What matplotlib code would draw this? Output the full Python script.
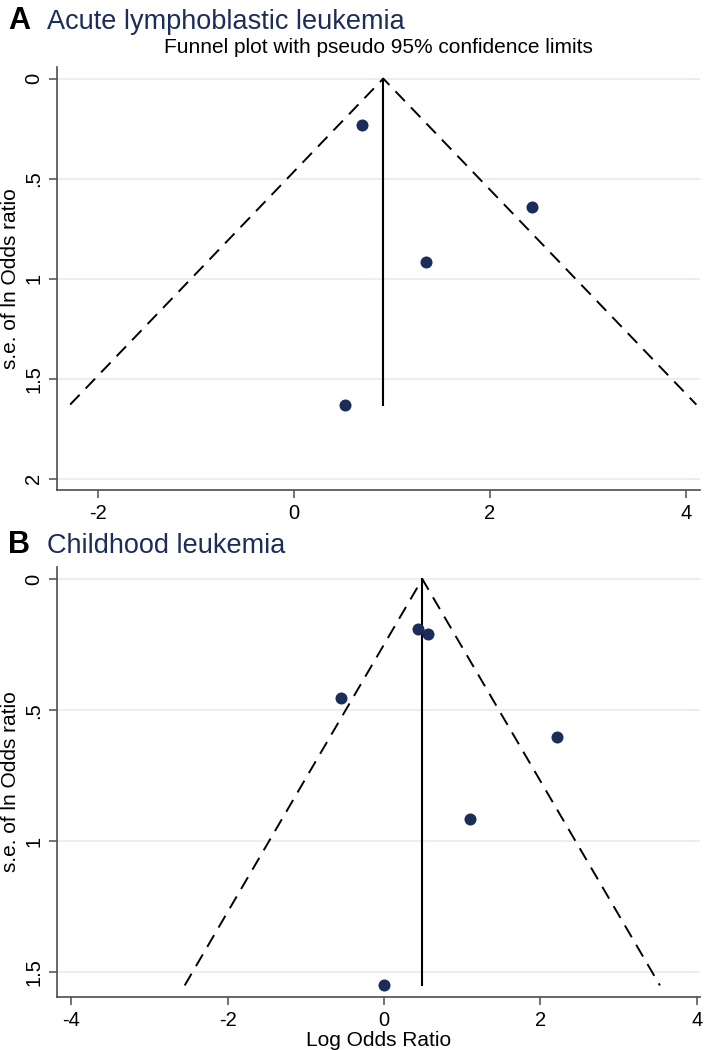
#!/usr/bin/env python3

import matplotlib
matplotlib.use("Agg")
import matplotlib.pyplot as plt

plt.rcParams["font.family"] = ["Liberation Sans", "DejaVu Sans"]

# Panel A: acute lymphoblastic leukemia
a_log_or = [0.70, 2.43, 1.35, 0.52]
a_se = [0.232, 0.643, 0.917, 1.63]
a_pooled = 0.914
a_se_max = 1.63

# Panel B: childhood leukemia
b_log_or = [0.43, 0.56, -0.55, 2.21, 1.10, 0.0]
b_se = [0.192, 0.209, 0.452, 0.604, 0.916, 1.55]
b_pooled = 0.49
b_se_max = 1.55

a_xticks = [-2, 0, 2, 4]
a_yticks = [0, 0.5, 1, 1.5, 2]
a_ylabels = ["0", ".5", "1", "1.5", "2"]
b_xticks = [-4, -2, 0, 2, 4]
b_yticks = [0, 0.5, 1, 1.5]
b_ylabels = ["0", ".5", "1", "1.5"]

W, H = 710, 1050
navy = "#1c2d5a"
grid_c = "#e6edf2"
spine_c = "#4d4d4d"
fs_tick = 14.5
fs_lab = 15


def funnel(ax, log_or, se, pooled, se_max, xlim, ylim, xticks, yticks, ylabels):
    for y in yticks:
        ax.axhline(y, color=grid_c, lw=1.3, zorder=0)
    z = 1.96
    ax.plot([pooled - z * se_max, pooled, pooled + z * se_max],
            [se_max, 0, se_max], color="black", lw=1.4,
            linestyle=(0, (7, 4.5)), zorder=2)
    ax.plot([pooled, pooled], [0, se_max], color="black", lw=1.5, zorder=2)
    ax.scatter(log_or, se, s=75, color=navy, zorder=3, linewidths=0)
    ax.set_xlim(*xlim)
    ax.set_ylim(ylim[1], ylim[0])
    ax.set_xticks(xticks)
    ax.set_xticklabels([str(t) for t in xticks], fontsize=fs_tick)
    ax.set_yticks(yticks)
    ax.set_yticklabels(ylabels, fontsize=fs_tick, rotation=90, va="center")
    ax.set_ylabel("s.e. of ln Odds ratio", fontsize=fs_lab, labelpad=3)
    for side in ["top", "right"]:
        ax.spines[side].set_visible(False)
    for side in ["left", "bottom"]:
        ax.spines[side].set_color(spine_c)
        ax.spines[side].set_linewidth(1.2)
    ax.tick_params(direction="out", length=6, width=1.1, color=spine_c, pad=4)


fig = plt.figure(figsize=(W / 100, H / 100), dpi=100)

ax1 = fig.add_axes([57 / W, 1 - 490 / H, 643 / W, 423 / H])
funnel(ax1, a_log_or, a_se, a_pooled, a_se_max, (-2.415, 4.146), (-0.058, 2.057),
       a_xticks, a_yticks, a_ylabels)
ax1.set_title("Funnel plot with pseudo 95% confidence limits", fontsize=fs_lab, pad=10)

ax2 = fig.add_axes([57 / W, 1 - 997 / H, 643 / W, 430 / H])
funnel(ax2, b_log_or, b_se, b_pooled, b_se_max, (-4.18, 4.04), (-0.046, 1.594),
       b_xticks, b_yticks, b_ylabels)
ax2.set_xlabel("Log Odds Ratio", fontsize=fs_lab, labelpad=1)

fig.text(8 / W, 1 - 29 / H, "A", fontsize=22, fontweight="bold", color="black")
fig.text(47 / W, 1 - 29 / H, "Acute lymphoblastic leukemia", fontsize=19.5, color=navy)
fig.text(8 / W, 1 - 553 / H, "B", fontsize=22, fontweight="bold", color="black")
fig.text(47 / W, 1 - 553 / H, "Childhood leukemia", fontsize=19.5, color=navy)

fig.savefig("out.png", dpi=100)
